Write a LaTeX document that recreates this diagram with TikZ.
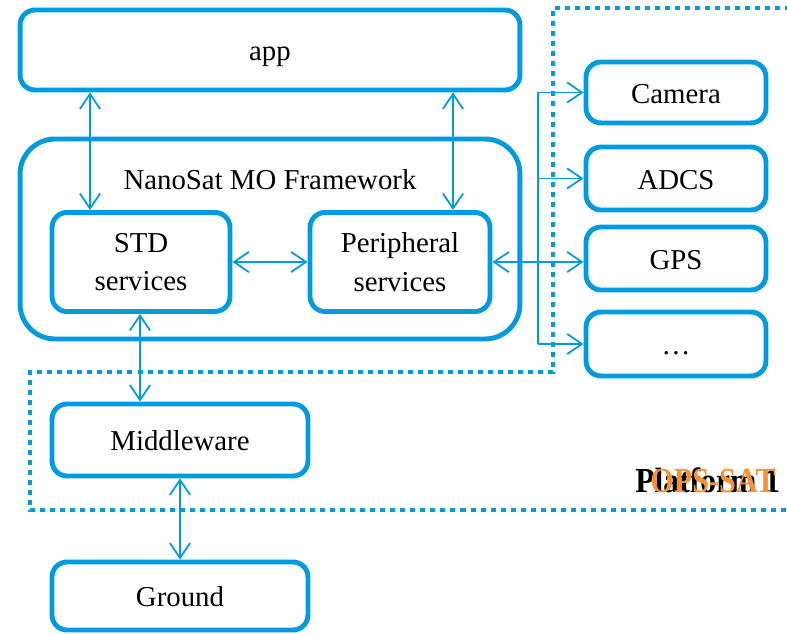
\documentclass[tikz,border=0pt]{standalone}
\usepackage{fontspec}
\setmainfont{Liberation Serif}
\usetikzlibrary{arrows.meta, positioning}
\definecolor{nmfblue}{RGB}{0,155,222}
\definecolor{opsorange}{RGB}{244,146,52}

\begin{document}
\begin{tikzpicture}[
        x=0.02cm, y=-0.02cm,
        box/.style={rectangle, draw=nmfblue, line width=2.8pt, rounded corners=0.3cm, inner sep=0pt, align=center, font=\fontsize{16.4}{22}\selectfont},
        onebox/.style={box, text height=15pt, text depth=2.6pt},
        bigbox/.style={box, rounded corners=0.7cm},
        link/.style={line width=1pt, draw=nmfblue},
        arrow/.style={link, {Straight Barb[length=8.5pt,width=11.5pt]}-{Straight Barb[length=8.5pt,width=11.5pt]}},
        arrowone/.style={link, -{Straight Barb[length=8.5pt,width=11.5pt]}},
        frame/.style={draw=nmfblue, line width=2.8pt, dash pattern=on 2.85pt off 2.85pt},
        plat/.style={inner sep=0pt, anchor=base west, font=\fontsize{20}{22}\selectfont\bfseries}
    ]
        \useasboundingbox (0,0) rectangle (787,634);
        \clip (0,0) rectangle (787,634);
        % platform outline
        \draw[frame] (800,8) -- (553,8) -- (553,372) -- (30,372) -- (30,510) -- (800,510);
        \node[plat, text=black, xscale=0.9] (platform) at (635,492) {Platform 1};
        \node[plat, text=opsorange, xscale=0.86] (opssat) at (650,492) {OPS-SAT};
        % boxes
        \node[onebox, minimum width=10cm, minimum height=1.6cm] (app) at (270,50) {app};
        \node[bigbox, minimum width=10cm, minimum height=4cm] (nmf) at (270,239) {};
        \node[font=\fontsize{16.4}{22}\selectfont] (nmflabel) at (270,180) {NanoSat MO Framework};
        \node[box, minimum width=3.56cm, minimum height=1.98cm] (std) at (141,262) {STD\\services};
        \node[box, minimum width=3.6cm, minimum height=1.98cm] (per) at (400,262) {Peripheral\\services};
        \node[onebox, minimum width=3.6cm, minimum height=1.22cm] (cam) at (676,92.5) {Camera};
        \node[onebox, minimum width=3.6cm, minimum height=1.26cm] (adcs) at (676,178.5) {ADCS};
        \node[onebox, minimum width=3.6cm, minimum height=1.26cm] (gps) at (676,258.5) {GPS};
        \node[onebox, minimum width=3.6cm, minimum height=1.28cm] (etc) at (676,344) {\ldots};
        \node[onebox, minimum width=5.12cm, minimum height=1.44cm] (mid) at (180,440) {Middleware};
        \node[onebox, minimum width=5.12cm, minimum height=1.36cm] (gnd) at (180,596) {Ground};
        % connectors
        \coordinate (a1) at (90,0);
        \coordinate (a2) at (453,0);
        \coordinate (a3) at (140,0);
        \coordinate (bus) at (538,0);
        \draw[arrow] (app.south -| a1) -- (std.north -| a1);
        \draw[arrow] (app.south -| a2) -- (per.north -| a2);
        \draw[arrow] (std.east) -- (std.east -| per.west);
        \draw[arrow] (per.east) -- (per.east -| gps.west);
        \draw[link] (bus |- cam) -- (bus |- etc);
        \draw[arrowone] (bus |- cam) -- (cam.west);
        \draw[arrowone] (bus |- adcs) -- (adcs.west);
        \draw[arrowone] (bus |- etc) -- (etc.west);
        \draw[arrow] (std.south -| a3) -- (mid.north -| a3);
        \draw[arrow] (mid.south) -- (gnd.north);
\end{tikzpicture}
\end{document}
